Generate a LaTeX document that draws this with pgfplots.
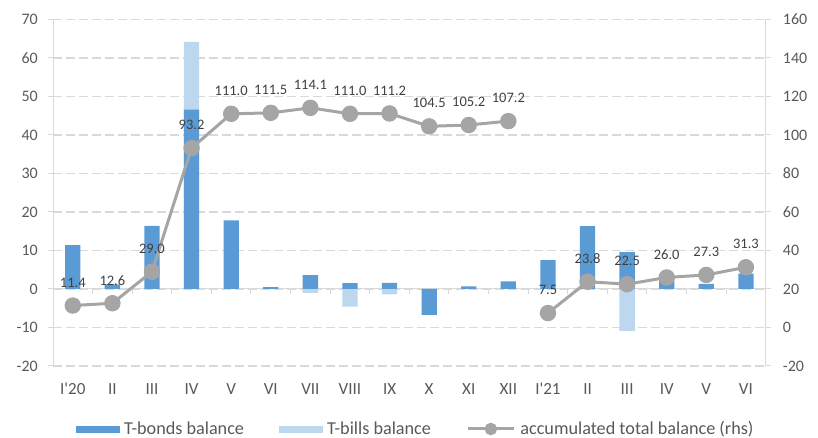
\documentclass[border=0pt]{standalone}
\usepackage{fontspec}
\setmainfont{Carlito}
\usepackage{pgfplots}
\pgfplotsset{compat=1.18}
\definecolor{bonds}{HTML}{5B9BD5}
\definecolor{bills}{HTML}{BDD7EE}
\definecolor{acc}{HTML}{A5A5A5}
\definecolor{grd}{HTML}{D9D9D9}
\definecolor{txt}{HTML}{595959}
\definecolor{lbl}{HTML}{404040}
\begin{document}
\begin{tikzpicture}
\useasboundingbox (0,0) rectangle (818pt,438pt);
\pgfplotsset{
  base/.style={
    scale only axis, width=712.7pt, height=346.5pt,
    at={(53pt,72pt)}, anchor=south west,
    xmin=-0.5, xmax=17.5,
    /pgf/number format/assume math mode=true,
    tick align=outside, major tick length=5pt,
  },
  accline/.style={acc, line width=3pt, mark=*, mark size=6.7pt,
    mark options={draw=none, fill=acc}},
}
% zero line with category separators
\begin{axis}[scale only axis, width=712.7pt, height=269.5pt,
  at={(53pt,149pt)}, anchor=south west,
  xmin=-0.5, xmax=17.5, ymin=0, ymax=1,
  axis x line=bottom, axis y line=none,
  xtick={0.5,1.5,...,16.5}, xticklabels={},
  tick align=outside, major tick length=5pt,
  x axis line style={-, draw=grd, line width=1pt},
  xtick style={draw=grd, line width=1pt}]
\end{axis}
% left axis: bars
\begin{axis}[base,
  ymin=-20, ymax=70, ytick={-20,-10,...,70},
  axis y line*=left, axis x line*=bottom,
  x axis line style={draw=none},
  y axis line style={-, draw=grd, line width=1pt},
  ytick style={draw=grd, line width=1pt},
  xtick style={draw=none},
  ymajorgrids,
  major grid style={draw=grd, line width=1.5pt, dash pattern=on 9pt off 4pt},
  yticklabel style={font=\fontsize{16}{19}\selectfont, text=txt, inner sep=0pt, xshift=-10pt},
  xtick={0,...,17},
  xticklabels={I\textquotesingle 20,II,III,IV,V,VI,VII,VIII,IX,X,XI,XII,I\textquotesingle 21,II,III,IV,V,VI},
  xticklabel style={font=\fontsize{17}{19}\selectfont, text=txt, anchor=north, inner sep=0pt, yshift=-12pt},
]
\addplot[ybar, bar width=15.3pt, bar shift=0pt, fill=bills, draw=none, forget plot]
  coordinates {(3,64.2) (6,-1.0) (7,-4.6) (8,-1.4) (14,-10.9)};
\addplot[ybar, bar width=15.3pt, bar shift=0pt, fill=bonds, draw=none, forget plot]
  coordinates {(0,11.4) (1,1.2) (2,16.4) (3,46.6) (4,17.8) (5,0.5) (6,3.6) (7,1.5) (8,1.6) (9,-6.7) (10,0.7) (11,2.0) (12,7.5) (13,16.3) (14,9.6) (15,3.5) (16,1.3) (17,4.0)};
\end{axis}
% right axis: accumulated line
\begin{axis}[base,
  ymin=-20, ymax=160, ytick={-20,0,...,160},
  axis y line*=right, axis x line=none,
  y axis line style={-, draw=grd, line width=1pt},
  ytick style={draw=grd, line width=1pt},
  yticklabel style={font=\fontsize{16}{19}\selectfont, text=txt, inner sep=0pt, xshift=12pt},
  nodes near coords,
  point meta=y,
  nodes near coords style={font=\fontsize{14.5}{17}\selectfont, text=lbl, anchor=center, yshift=23pt,
    /pgf/number format/.cd, fixed, fixed zerofill, precision=1, assume math mode=true},
  legend style={at={(0,0)}, anchor=west, xshift=23pt, yshift=-63pt,
    draw=none, fill=none, inner sep=0pt, outer sep=0pt,
    font=\fontsize{18.2}{21}\selectfont, text=txt,
    nodes={inner sep=0pt},
    /tikz/every odd column/.append style={column sep=4.7pt},
    /tikz/every even column/.append style={column sep=35pt}},
  legend columns=-1,
]
\addlegendimage{legend image code/.code={\fill[bonds] (0pt,-3.25pt) rectangle (43pt,3.25pt);}}
\addlegendentry{T-bonds balance}
\addlegendimage{legend image code/.code={\fill[bills] (0pt,-3.25pt) rectangle (43pt,3.25pt);}}
\addlegendentry{T-bills balance}
\addplot[accline, legend image code/.code={\draw[acc, line width=3pt] (0pt,0pt) -- (46.6pt,0pt); \fill[acc] (23.3pt,0pt) circle (4.7pt);}]
  coordinates {(0,11.4) (1,12.6) (2,29.0) (3,93.2) (4,111.0) (5,111.5) (6,114.1) (7,111.0) (8,111.2) (9,104.5) (10,105.2) (11,107.2)};
\addlegendentry{accumulated total balance (rhs)}
\addplot[accline, forget plot]
  coordinates {(12,7.5) (13,23.8) (14,22.5) (15,26.0) (16,27.3) (17,31.3)};
\end{axis}
\end{tikzpicture}
\end{document}
